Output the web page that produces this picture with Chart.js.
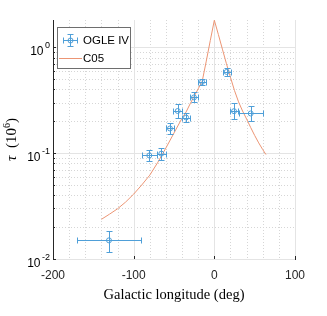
<!DOCTYPE html>
<html>
<head>
<meta charset="utf-8">
<script src="https://cdn.jsdelivr.net/npm/chart.js@4/dist/chart.umd.min.js"></script>
<style>
html, body { margin: 0; padding: 0; background: #fff; }
#wrap { width: 327px; height: 316px; }
</style>
</head>
<body>
<div id="wrap"><canvas id="myChart"></canvas></div>
<script>
// OGLE IV optical depth per field
const ogleLon  = [-130.6, -80.6, -65.7, -55.0, -45.4, -35.0, -25.2, -15.2, 15.3, 24.4, 45.1];
const ogleTau  = [0.0150, 0.095, 0.099, 0.171, 0.250, 0.217, 0.336, 0.471, 0.585, 0.249, 0.237];
const lonErr   = [40, 9.5, 5.5, 5, 5.4, 5, 5, 5, 5, 5, 15];
const tauLow   = [0.0116, 0.084, 0.087, 0.151, 0.216, 0.198, 0.302, 0.437, 0.535, 0.210, 0.201];
const tauHigh  = [0.0185, 0.108, 0.112, 0.194, 0.289, 0.238, 0.374, 0.507, 0.640, 0.295, 0.279];

// C05 model curve
const c05Lon = [-140, -130, -120, -110, -100, -90, -80, -70, -60, -50, -40, -35, -30, -25, -20, -15, -10, -5, 0,
                5, 10, 15, 20, 25, 30, 35, 40, 45, 50, 55, 60, 64];
const c05Tau = [0.0237, 0.0265, 0.0298, 0.0345, 0.041, 0.050, 0.062, 0.082, 0.112, 0.155, 0.214, 0.245, 0.292, 0.345, 0.405, 0.478, 0.74, 1.16, 1.8,
                1.32, 0.96, 0.70, 0.52, 0.39, 0.305, 0.25, 0.21, 0.175, 0.147, 0.125, 0.108, 0.097];

// axis ticks
const xMajor = [-100, 0, 100];
const xMinor = [-180, -160, -140, -120, -80, -60, -40, -20, 20, 40, 60, 80];
const yMajor = [0.01, 0.1, 1];
const yExp = ['-2', '-1', '0'];

const blue = '#4f9fd8';
const orange = '#ec9574';
const axisColor = '#262626';

const yMinor = [];
for (const d of [0.01, 0.1]) {
    for (let k = 2; k <= 9; k++) yMinor.push(d * k);
}

const gridPlugin = {
    id: 'grid',
    beforeDatasetsDraw(chart) {
        const ctx = chart.ctx;
        const a = chart.chartArea;
        const xs = chart.scales.x, ys = chart.scales.y;
        ctx.save();
        ctx.lineWidth = 1;
        ctx.setLineDash([1, 2]);
        ctx.strokeStyle = '#d6d6d6';
        ctx.beginPath();
        for (const v of xMinor) {
            const p = Math.round(xs.getPixelForValue(v)) + 0.5;
            ctx.moveTo(p, a.top); ctx.lineTo(p, a.bottom);
        }
        for (const v of yMinor) {
            const p = Math.round(ys.getPixelForValue(v)) + 0.5;
            ctx.moveTo(a.left, p); ctx.lineTo(a.right, p);
        }
        ctx.stroke();
        ctx.setLineDash([]);
        ctx.strokeStyle = '#e4e4e4';
        ctx.beginPath();
        for (const v of xMajor) {
            const p = Math.round(xs.getPixelForValue(v)) + 0.5;
            ctx.moveTo(p, a.top); ctx.lineTo(p, a.bottom);
        }
        for (const v of yMajor) {
            const p = Math.round(ys.getPixelForValue(v)) + 0.5;
            ctx.moveTo(a.left, p); ctx.lineTo(a.right, p);
        }
        ctx.stroke();
        // inward tick marks
        ctx.strokeStyle = axisColor;
        ctx.beginPath();
        for (const v of xMajor) {
            const p = Math.round(xs.getPixelForValue(v)) + 0.5;
            ctx.moveTo(p, a.bottom); ctx.lineTo(p, a.bottom - 3);
        }
        for (const v of yMajor) {
            const p = Math.round(ys.getPixelForValue(v)) + 0.5;
            ctx.moveTo(a.left, p); ctx.lineTo(a.left + 3, p);
        }
        for (const v of yMinor) {
            const p = Math.round(ys.getPixelForValue(v)) + 0.5;
            ctx.moveTo(a.left, p); ctx.lineTo(a.left + 2, p);
        }
        ctx.stroke();
        ctx.restore();
    }
};

function drawErrorBar(ctx, px, py, xl, xr, yt, yb) {
    ctx.beginPath();
    ctx.moveTo(xl, py); ctx.lineTo(xr, py);
    ctx.moveTo(xl, py - 3); ctx.lineTo(xl, py + 3);
    ctx.moveTo(xr, py - 3); ctx.lineTo(xr, py + 3);
    ctx.moveTo(px, yt); ctx.lineTo(px, yb);
    ctx.moveTo(px - 3, yt); ctx.lineTo(px + 3, yt);
    ctx.moveTo(px - 3, yb); ctx.lineTo(px + 3, yb);
    ctx.stroke();
}

const errorBarPlugin = {
    id: 'errorBars',
    afterDatasetsDraw(chart) {
        const ctx = chart.ctx;
        const xs = chart.scales.x, ys = chart.scales.y;
        const r = (v) => Math.round(v) + 0.5;
        ctx.save();
        ctx.strokeStyle = blue;
        ctx.lineWidth = 1;
        for (let i = 0; i < ogleLon.length; i++) {
            drawErrorBar(ctx,
                r(xs.getPixelForValue(ogleLon[i])),
                r(ys.getPixelForValue(ogleTau[i])),
                r(xs.getPixelForValue(ogleLon[i] - lonErr[i])),
                r(xs.getPixelForValue(ogleLon[i] + lonErr[i])),
                r(ys.getPixelForValue(tauHigh[i])),
                r(ys.getPixelForValue(tauLow[i])));
        }
        ctx.restore();
    }
};

const labelPlugin = {
    id: 'labels',
    afterDraw(chart) {
        const ctx = chart.ctx;
        const a = chart.chartArea;
        const ys = chart.scales.y;
        ctx.save();
        ctx.fillStyle = '#000';
        // y tick labels as 10^n
        yMajor.forEach((v, i) => {
            const p = ys.getPixelForValue(v);
            ctx.font = '9px "Liberation Sans"';
            const ew = ctx.measureText(yExp[i]).width;
            const right = a.left - 3;
            ctx.textAlign = 'left';
            ctx.textBaseline = 'alphabetic';
            ctx.fillText(yExp[i], right - ew, p + 1);
            ctx.font = '12px "Liberation Sans"';
            const bw = ctx.measureText('10').width;
            ctx.fillText('10', right - ew - bw - 1.5, p + 8);
        });

        // y title: tau (10^6)
        ctx.save();
        ctx.translate(16, (a.top + a.bottom) / 2);
        ctx.rotate(-Math.PI / 2);
        ctx.textBaseline = 'alphabetic';
        ctx.textAlign = 'left';
        const parts = [
            ['italic 15px "Liberation Serif"', '\u03c4', 0],
            ['15px "Liberation Serif"', '  (10', 0],
            ['10px "Liberation Serif"', '6', -6],
            ['15px "Liberation Serif"', ')', 0]
        ];
        let total = 0;
        for (const [f, t] of parts) { ctx.font = f; total += ctx.measureText(t).width; }
        let cx = -total / 2;
        for (const [f, t, dy] of parts) {
            ctx.font = f;
            ctx.fillText(t, cx, dy);
            cx += ctx.measureText(t).width;
        }
        ctx.restore();

        // x title
        ctx.font = '14.5px "Liberation Serif"';
        ctx.textAlign = 'center';
        ctx.textBaseline = 'middle';
        ctx.fillText('Galactic longitude (deg)', (a.left + a.right) / 2, 295);

        // legend
        const lx = 57.5, ly = 27.5, lw = 73, lh = 41;
        ctx.fillStyle = '#fff';
        ctx.fillRect(lx, ly, lw, lh);
        ctx.strokeStyle = '#6e6e6e';
        ctx.lineWidth = 1;
        ctx.strokeRect(lx, ly, lw, lh);
        ctx.strokeStyle = blue;
        drawErrorBar(ctx, 70.5, 40.5, 63.5, 77.5, 34.5, 46.5);
        ctx.beginPath();
        ctx.arc(70.5, 40.5, 2.5, 0, Math.PI * 2);
        ctx.stroke();
        ctx.strokeStyle = orange;
        ctx.beginPath();
        ctx.moveTo(59, 58.5); ctx.lineTo(82, 58.5);
        ctx.stroke();
        ctx.fillStyle = '#000';
        ctx.font = '11.5px "Liberation Sans"';
        ctx.textAlign = 'left';
        ctx.textBaseline = 'middle';
        ctx.fillText('OGLE IV', 83, 41);
        ctx.fillText('C05', 83, 58.5);
        ctx.restore();
    }
};

const ctx = document.getElementById('myChart').getContext('2d');
const myChart = new Chart(ctx, {
    type: 'scatter',
    data: {
        datasets: [{
            label: 'OGLE IV',
            data: ogleLon.map((l, i) => ({ x: l, y: ogleTau[i] })),
            pointStyle: 'circle',
            pointRadius: 2.5,
            borderWidth: 1,
            borderColor: blue,
            backgroundColor: 'rgba(0,0,0,0)',
            order: 0
        }, {
            label: 'C05',
            data: c05Lon.map((l, i) => ({ x: l, y: c05Tau[i] })),
            showLine: true,
            pointRadius: 0,
            borderWidth: 1,
            borderColor: orange,
            tension: 0,
            order: 1
        }]
    },
    options: {
        responsive: true,
        maintainAspectRatio: false,
        animation: false,
        devicePixelRatio: 1,
        layout: { padding: { left: 53, top: 20, right: 32, bottom: 24.6 } },
        plugins: { legend: { display: false }, tooltip: { enabled: false } },
        scales: {
            x: {
                type: 'linear',
                min: -200,
                max: 100,
                ticks: { stepSize: 100, color: axisColor, font: { family: 'Liberation Sans', size: 12 }, padding: 9 },
                grid: { display: false, drawTicks: false },
                border: { color: axisColor, width: 1 }
            },
            y: {
                type: 'logarithmic',
                min: 0.01,
                max: 1.81,
                ticks: { display: false },
                grid: { display: false, drawTicks: false },
                border: { color: axisColor, width: 1 }
            }
        }
    },
    plugins: [gridPlugin, errorBarPlugin, labelPlugin]
});
</script>
</body>
</html>
